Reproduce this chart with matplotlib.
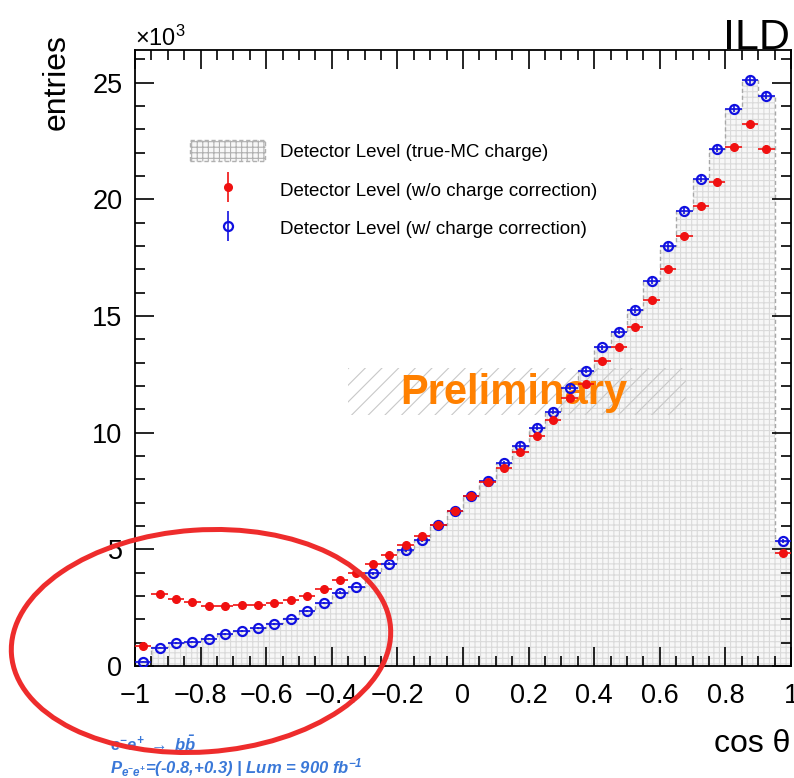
import numpy as np
import matplotlib
matplotlib.use("Agg")
import matplotlib.pyplot as plt
from matplotlib.patches import Ellipse, Rectangle
from matplotlib.transforms import IdentityTransform
from matplotlib.container import ErrorbarContainer
from matplotlib.legend_handler import HandlerErrorbar

# cos(theta) binning: 40 bins from -1 to 1
edges = np.linspace(-1, 1, 41)
centers = 0.5 * (edges[:-1] + edges[1:])

# entries per bin, in units of 10^3
true_mc = [0.20, 0.80, 0.99, 1.05, 1.18, 1.36, 1.50, 1.64, 1.83, 2.04,
           2.35, 2.70, 3.13, 3.40, 3.98, 4.40, 4.95, 5.40, 6.04, 6.64,
           7.28, 7.92, 8.68, 9.44, 10.20, 10.90, 11.92, 12.65, 13.65, 14.33,
           15.27, 16.50, 17.98, 19.50, 20.88, 22.15, 23.88, 25.10, 24.45, 5.35]
no_corr = [0.87, 3.07, 2.89, 2.73, 2.56, 2.56, 2.62, 2.63, 2.68, 2.82,
           3.02, 3.32, 3.68, 3.98, 4.37, 4.75, 5.18, 5.58, 6.04, 6.64,
           7.28, 7.90, 8.47, 9.16, 9.86, 10.55, 11.48, 12.09, 13.05, 13.69,
           14.52, 15.68, 17.03, 18.41, 19.70, 20.75, 22.24, 23.24, 22.16, 4.85]
with_corr = [0.18, 0.78, 0.98, 1.04, 1.17, 1.36, 1.49, 1.63, 1.82, 2.03,
             2.35, 2.70, 3.15, 3.39, 3.98, 4.39, 4.96, 5.39, 6.04, 6.64,
             7.28, 7.92, 8.69, 9.45, 10.21, 10.90, 11.93, 12.65, 13.66, 14.33,
             15.27, 16.51, 17.98, 19.51, 20.88, 22.16, 23.88, 25.10, 24.45, 5.35]

legend_labels = ["Detector Level (true-MC charge)",
                 "Detector Level (w/o charge correction)",
                 "Detector Level (w/ charge correction)"]

x_ticks = [-1, -0.8, -0.6, -0.4, -0.2, 0, 0.2, 0.4, 0.6, 0.8, 1]
y_ticks = [0, 5, 10, 15, 20, 25]

plt.rcParams['font.family'] = ['Liberation Sans', 'DejaVu Sans']
plt.rcParams['hatch.linewidth'] = 0.8
plt.rcParams['mathtext.fontset'] = 'custom'
plt.rcParams['mathtext.rm'] = 'Liberation Sans'
plt.rcParams['mathtext.it'] = 'Liberation Sans:italic'
plt.rcParams['mathtext.bf'] = 'Liberation Sans:bold'
plt.rcParams['mathtext.bfit'] = 'Liberation Sans:italic:bold'

W, H = 794, 778
fig = plt.figure(figsize=(W / 100, H / 100), dpi=100)
ax = fig.add_axes([135 / W, 1 - 666 / H, (791 - 135) / W, (666 - 50) / H])

# statistical errors from the bin counts
no_corr_err = np.sqrt(np.array(no_corr) * 1000) / 1000
with_corr_err = np.sqrt(np.array(with_corr) * 1000) / 1000

# true-MC histogram: light grid fill plus dashed outline
hist = ax.stairs(true_mc, edges, fill=True, facecolor='#f7f7f7',
                 edgecolor='#dadada', hatch='+++', linewidth=0, zorder=1)
ax.stairs(true_mc, edges, color='#a8a8a8', linestyle=(0, (3, 2)),
          linewidth=1.0, zorder=1.5)

# "Preliminary" stamp with a hatched band behind it
ax.add_patch(Rectangle((-0.351, 10.76), 1.03, 2.02, fill=False,
                       edgecolor='#c8c8c8', hatch='//', linewidth=0,
                       zorder=2))
ax.text(0.155, 11.68, "Preliminary", color='#ff8000', fontsize=30,
        fontweight='bold', ha='center', va='center', zorder=3)

blue = ax.errorbar(centers, with_corr, xerr=0.025, yerr=with_corr_err,
                   fmt='o', ms=6.5, mfc='none', mec='#1010e0', mew=1.6,
                   color='#1010e0', elinewidth=1.2, capsize=0, zorder=4)
red = ax.errorbar(centers, no_corr, xerr=0.025, yerr=no_corr_err,
                  fmt='o', ms=5.5, color='#f01010', elinewidth=1.2,
                  capsize=0, zorder=5)

ax.set_xlim(-1, 1)
ax.set_ylim(0, 26.4)
ax.set_xticks(x_ticks)
ax.set_xticklabels([f"{v:g}".replace('-', '\u2212') for v in x_ticks])
ax.set_yticks(y_ticks)
ax.set_yticklabels([str(v) for v in y_ticks])
ax.xaxis.set_minor_locator(plt.MultipleLocator(0.05))
ax.yaxis.set_minor_locator(plt.MultipleLocator(1))
ax.tick_params(which='both', direction='in', top=True, right=True,
               width=1.2, labelsize=19.5)
ax.tick_params(which='major', length=14)
ax.tick_params(which='minor', length=7)
ax.tick_params(axis='x', pad=12)
ax.tick_params(axis='y', pad=9)
for sp in ax.spines.values():
    sp.set_linewidth(1.3)

leg = ax.legend([hist, red, blue], legend_labels, frameon=False,
                loc='upper left', bbox_to_anchor=(190 / W, 1 - 140 / H),
                bbox_transform=fig.transFigure, fontsize=13.5,
                handlelength=4.0, handleheight=1.35, handletextpad=0.8,
                labelspacing=0.95, borderpad=0, borderaxespad=0,
                numpoints=1,
                handler_map={ErrorbarContainer: HandlerErrorbar(xerr_size=0,
                                                                yerr_size=0.8)})
leg.set_zorder(6)
for p in leg.get_patches():
    p.set_edgecolor('#b0b0b0')
    p.set_linestyle((0, (3, 2)))
    p.set_linewidth(1.0)

# axis titles and labels in ROOT style
fig.text(135 / W, 1 - 46 / H, r"$\times10^{3}$", fontsize=17,
         ha='left', va='baseline')
fig.text(57 / W, 1 - 34 / H, "entries", fontsize=23, rotation=90,
         ha='center', va='top')
fig.text(790 / W, 1 - 752 / H, "cos \u03b8", fontsize=23,
         ha='right', va='baseline')
fig.text(790 / W, 1 - 49 / H, "ILD", fontsize=31, ha='right',
         va='baseline')

# process and beam conditions
fig.text(110 / W, 1 - 751 / H, r"$\mathbfit{e^{-}e^{+}\ \rightarrow\ b\bar{b}}$",
         color='#3a78d8', fontsize=12, ha='left', va='baseline')
fig.text(110 / W, 1 - 773 / H,
         r"$\mathbfit{P_{e^{-}e^{+}}}$" + "=(-0.8,+0.3) | Lum = 900 fb" +
         r"$^{\mathbfit{-1}}$",
         color='#3a78d8', fontsize=12, fontweight='bold', style='italic',
         ha='left', va='baseline')

# highlight of the backward region
fig.add_artist(Ellipse((201, H - 641), 380, 222, angle=4, fill=False,
                       edgecolor='#ee2c2c', linewidth=3.6,
                       transform=IdentityTransform(), zorder=10))

fig.savefig("out.png", dpi=100)
